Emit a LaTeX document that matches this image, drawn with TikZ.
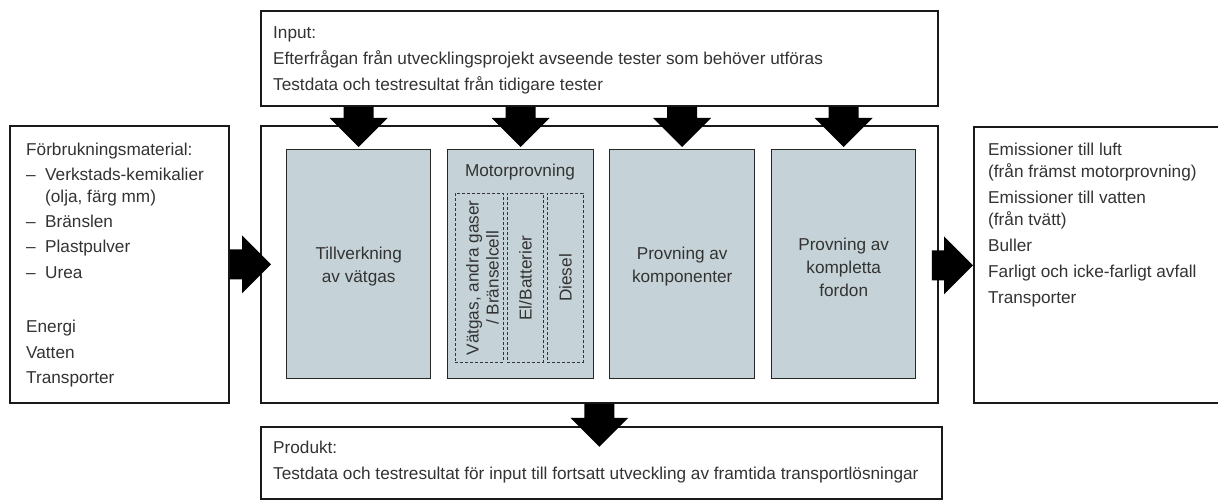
\documentclass[tikz,border=0pt]{standalone}
\usepackage{fontspec}
\setmainfont{Liberation Sans}
\usetikzlibrary{calc}
\definecolor{ink}{HTML}{333333}
\definecolor{panel}{RGB}{197,211,216}
\newcommand\bul{\makebox[19pt][l]{--}}
\tikzset{
  frame/.style={draw=black!90, line width=1.8pt, fill=white, inner sep=0pt, anchor=north west},
  stage/.style={draw=black!85, line width=1.4pt, fill=panel, inner sep=0pt, anchor=north west},
  variant/.style={draw=black!80, line width=0.9pt, dash pattern=on 3pt off 2pt, inner sep=0pt, anchor=north west},
  txt/.style={text=ink, inner sep=0pt, align=left, font=\fontsize{17.2}{22}\selectfont},
  ctxt/.style={text=ink, inner sep=0pt, align=center, font=\fontsize{17.2}{23}\selectfont},
  % filled block arrow from start to target
  blk/.style={fill=black, draw=none, to path={
    let \p3=($(\tikztotarget)!29pt!(\tikztostart)$) in
    ($(\tikztostart)!15pt!90:(\tikztotarget)$) --
    ($(\p3)!15pt!90:(\tikztotarget)$) --
    ($(\p3)!29pt!90:(\tikztotarget)$) --
    (\tikztotarget) --
    ($(\p3)!29pt!-90:(\tikztotarget)$) --
    ($(\p3)!15pt!-90:(\tikztotarget)$) --
    ($(\tikztostart)!15pt!-90:(\tikztotarget)$) -- cycle}}
}
\begin{document}
\begin{tikzpicture}[x=1pt,y=-1pt]
\useasboundingbox (0,0) rectangle (1218,502);

% outer frames
\node[frame, minimum width=677pt, minimum height=95pt] (in) at (260,10) {};
\node[frame, minimum width=219pt, minimum height=277pt] (lb) at (9,125) {};
\node[frame, minimum width=677pt, minimum height=277pt] (mb) at (260,125) {};
\node[frame, minimum width=260pt, minimum height=276pt] (rb) at (973,126) {};
\node[frame, minimum width=681pt, minimum height=72pt] (pb) at (260,426) {};

% process stages
\node[stage, minimum width=144pt, minimum height=229pt] (t1) at (286,149) {};
\node[stage, minimum width=146pt, minimum height=229pt] (t2) at (447,149) {};
\node[stage, minimum width=145pt, minimum height=229pt] (t3) at (609,149) {};
\node[stage, minimum width=144pt, minimum height=229pt] (t4) at (771,149) {};

% engine test variants
\node[variant, minimum width=48pt, minimum height=169pt] (d1) at (455,193) {};
\node[variant, minimum width=36pt, minimum height=169pt] (d2) at (507,193) {};
\node[variant, minimum width=36pt, minimum height=169pt] (d3) at (547,193) {};

% arrow end points
\coordinate (lt) at ($(mb.west)+(11,0)$);
\coordinate (rs) at ($(mb.east)+(-7,1)$);
\coordinate (pt) at ($(mb.south)+(0,43)$);

% block arrows
\foreach \t in {t1,t2,t3,t4}
  \path[blk] (in.south -| \t.north) to ($(\t.north)+(0,-2)$);
\path[blk] (lb.east) to (lt);
\path[blk] (rs) to (rs -| rb.west);
\path[blk] (mb.south) to (pt);

% texts
\node[txt, anchor=north west] (intext) at (273,26) {Input:\\[4pt]
Efterfrågan från utvecklingsprojekt avseende tester som behöver utföras\\[4pt]
Testdata och testresultat från tidigare tester};

\node[txt, anchor=north west] (ltext) at (26,143) {Förbrukningsmaterial:\\[3pt]
\bul Verkstads-kemikalier\\
\hspace*{19pt}(olja, färg mm)\\[3pt]
\bul Bränslen\\[3pt]
\bul Plastpulver\\[4pt]
\bul Urea\\[32pt]
Energi\\[4pt]
Vatten\\[3pt]
Transporter};

\node[txt, anchor=north west] (rtext) at (988,143) {Emissioner till luft\\
(från främst motorprovning)\\[4pt]
Emissioner till vatten\\
(från tvätt)\\[4pt]
Buller\\[4pt]
Farligt och icke-farligt avfall\\[4pt]
Transporter};

\node[txt, anchor=north west] (ptext) at (273,441) {Produkt:\\[4pt]
Testdata och testresultat för input till fortsatt utveckling av framtida transportlösningar};

\node[ctxt] at ($(t1)+(0,2)$) {Tillverkning\\av vätgas};
\node[ctxt] at ($(t3)+(0,2)$) {Provning av\\komponenter};
\node[ctxt] at ($(t4)+(0,3)$) {Provning av\\kompletta\\fordon};
\node[ctxt, anchor=center] at (520,172) {Motorprovning};
\node[ctxt, rotate=90, font=\fontsize{17.2}{20}\selectfont] at ($(d1)+(3,0)$) {Vätgas, andra gaser\\/ Bränselcell};
\node[ctxt, rotate=90] at (d2) {El/Batterier};
\node[ctxt, rotate=90] at (d3) {Diesel};
\end{tikzpicture}
\end{document}
